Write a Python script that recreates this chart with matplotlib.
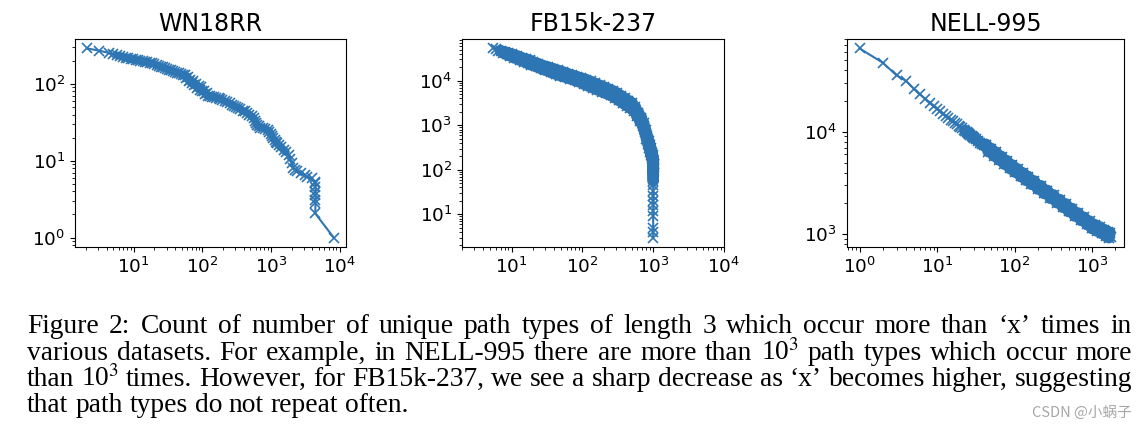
import matplotlib
matplotlib.use("Agg")
from matplotlib import pyplot as plt

# WN18RR
wn_x = [2.1, 3.1, 4.3, 5.0, 5.7, 6.3, 7.0, 7.6, 8.2, 9.0, 9.8, 10.7, 11.6, 12.5, 13.5,
        14.6, 15.8, 17.0, 18.5, 20.0, 21.5, 23.0, 24.5, 26.5, 28.5, 30.5, 32.5, 34.5,
        37.0, 40.0, 43.0, 46.0, 49.0, 52.0, 55.0, 58.0, 61.0, 64.0, 67.0, 70.0, 73.0,
        76.0, 80.0, 84.0, 88.0, 92.0, 96.0, 100, 105, 110, 115, 120, 128, 136, 146,
        160, 172, 183, 195, 210, 229, 250, 270, 286, 310, 335, 357, 385, 415, 447,
        480, 520, 560, 585, 605, 626, 660, 700, 760, 830, 900, 950, 990, 1035, 1080,
        1130, 1180, 1222, 1300, 1400, 1530, 1650, 1800, 1900, 2000, 2100, 2250, 2400,
        2700, 3100, 3400, 3900, 4350, 4420, 4450, 4420, 4450, 4420, 4450, 4420, 8200]
wn_y = [290, 272, 254, 243, 236, 231, 224, 220, 216, 212, 209, 206, 203, 201, 198,
        195, 192, 189, 186, 181, 176, 172, 168, 165, 160, 156, 152, 150,
        146, 144, 140, 137, 134, 130, 132, 118, 124, 108, 114, 102, 108,
        96, 101, 88, 94, 84, 90, 80, 82, 74, 76, 69, 70, 68, 67,
        66, 65, 64, 62, 60, 58, 56, 54, 52, 50, 49, 47, 45, 44, 42,
        40, 38, 36, 33, 31, 29, 28, 27, 27, 26, 25, 24, 22, 21, 19.5,
        18.5, 17.5, 17, 16, 15, 13.9, 13, 12, 10.5, 9.3, 8.0, 7.5, 7.3,
        6.9, 6.5, 6.2, 5.9, 5.3, 5.1, 4.5, 3.9, 3.6, 3.1, 2.8, 2.06, 1]

# FB15k-237
fb_x = [5.5, 6, 6.5, 7, 7.5, 8, 8.5, 9, 9.5, 10, 11, 12, 13, 14, 15, 16, 17, 18, 19, 20,
        22, 24, 26, 28, 30, 33, 36, 39, 42, 45, 49, 53, 57, 62, 67, 72, 78, 84, 90, 97,
        105, 113, 122, 131, 141, 152, 163, 175, 188, 202, 217, 233, 250, 268, 287, 307,
        328, 350, 373, 397, 422, 448, 475, 503, 532, 561, 590, 620, 650, 680, 708, 735,
        760, 783, 805, 825, 845, 863, 880, 896, 910, 923, 935, 946, 956, 965, 973, 980,
        1010, 985, 1012, 988, 1010, 990, 1008, 992, 1005, 995,
        1000, 1000, 1000, 1000, 1000, 1000, 1000, 1000, 1000, 1000, 1000]
fb_y = [53000, 51900, 46600, 47300, 42800, 44500, 39000, 41500, 36500, 39800,
        32500, 36000, 29300, 32700, 26900, 30700, 24500, 28500, 22800, 26700,
        20900, 24000, 18800, 21800, 17300, 20200, 15400, 18500, 14100, 17100,
        13000, 15700, 12100, 14400, 11100, 13300, 10200, 12300, 9460, 11400,
        8420, 10600, 7610, 9600, 6910, 8680, 6270, 7900, 5700, 7190, 5180, 6530,
        4700, 5930, 4150, 5290, 3610, 4610, 3150, 4040, 2770, 3560, 2440, 3150,
        2120, 2520, 1600, 1920, 1230, 1490, 970, 1100, 690, 770, 500, 580, 380,
        450, 305, 365, 250, 305, 215, 265, 190, 235, 175, 210,
        165, 150, 135, 120, 108, 100, 92, 83, 75, 66,
        57, 45, 34, 26, 20, 16, 12, 9, 5, 4, 3]

# NELL-995
nell_x = [1, 2, 3, 4, 5, 6, 7, 8, 9, 10, 11, 12, 13, 14, 15, 16, 17, 18, 19, 20,
          21, 22, 23, 24, 25, 26, 27, 28, 29, 30, 32, 34, 36, 38, 40, 43, 46, 50,
          54, 58, 63, 68, 74, 80, 87, 94, 100, 110, 120, 130, 140, 150, 165, 180,
          200, 220, 240, 265, 290, 320, 350, 385, 420, 460, 500, 550, 600, 660,
          720, 790, 860, 930, 1000, 1080, 1160, 1250, 1340, 1430, 1520, 1600,
          1650, 1700, 1780]
nell_y = [64800, 47000, 35400, 31200, 26300, 23100, 21000, 19100, 17800, 16700,
          15780, 15000, 14310, 13700, 13140, 12660, 12210, 11810, 11440, 11090,
          10780, 10490, 10220, 9970, 9720, 9500, 9290, 9100, 8910, 8730, 8410,
          8110, 7850, 7600, 7370, 7480, 6410, 6850, 5830, 6280, 5320, 5710, 4840,
          5190, 4400, 4720, 4060, 4320, 3670, 3940, 3370, 3650, 3080, 3300,
          2770, 2960, 2510, 2670, 2250, 2410, 2040, 2170, 1840, 1970, 1670, 1780,
          1510, 1610, 1370, 1460, 1250, 1340, 1140, 1240, 1080, 1180, 1020, 1110,
          960, 1060, 930, 1040, 940]

titles = ["WN18RR", "FB15k-237", "NELL-995"]

caption_lines = [
    "Figure 2: Count of number of unique path types of length 3 which occur more than \u2018x\u2019 times in",
    "various datasets. For example, in NELL-995 there are more than 10$^3$ path types which occur more",
    "than 10$^3$ times. However, for FB15k-237, we see a sharp decrease as \u2018x\u2019 becomes higher, suggesting",
    "that path types do not repeat often.",
]

W, H = 1147, 430
fig = plt.figure(figsize=(W / 100, H / 100), dpi=100)

color = "#2e75b4"
boxes = [[75, 346], [462, 724], [847, 1124]]
top, bottom = 39, 247
data = [(wn_x, wn_y), (fb_x, fb_y), (nell_x, nell_y)]
# where the markers pile up into a solid band: (first, last index, band width)
dense = [(4, 92, 5.5), (3, 99, 8.5), (22, -1, 8.5)]

for (l, r), (xs, ys), title, (i0, i1, bw) in zip(boxes, data, titles, dense):
    ax = fig.add_axes([l / W, 1 - bottom / H, (r - l) / W, (bottom - top) / H])
    ax.plot(xs[i0:i1], ys[i0:i1], color=color, lw=bw,
            solid_joinstyle="round", solid_capstyle="round")
    ax.plot(xs, ys, marker="x", color=color, lw=1.5, ms=6.5, mew=1.2)
    ax.set_xscale("log")
    ax.set_yscale("log")
    ax.set_title(title, fontsize=17)
    ax.tick_params(labelsize=13.3)
    if title == "FB15k-237":
        ax.set_xlim(2, 1e4)

# caption, justified like the paper
fs = 19.8
left_px, right_px = 27, 1132
baselines = [333, 360, 386, 412]
fig.canvas.draw()
rend = fig.canvas.get_renderer()
for i, line in enumerate(caption_lines):
    words = line.split(" ")
    texts = [fig.text(0, 0, w, fontsize=fs, family="Liberation Serif",
                      math_fontfamily="stix", va="baseline") for w in words]
    widths = [t.get_window_extent(rend).width for t in texts]
    if i < len(caption_lines) - 1:
        gap = (right_px - left_px - sum(widths)) / (len(words) - 1)
    else:
        gap = 0.25 * fs * 100 / 72
    x = left_px
    for t, w in zip(texts, widths):
        t.set_position((x / W, 1 - baselines[i] / H))
        x += w + gap

fig.text(1132 / W, 1 - 413 / H, "CSDN @小蜗子", fontsize=10.5, color="#a6a6a6",
         ha="right", va="center", family=["Noto Sans CJK SC", "DejaVu Sans"])

fig.savefig("out.png", dpi=100)
